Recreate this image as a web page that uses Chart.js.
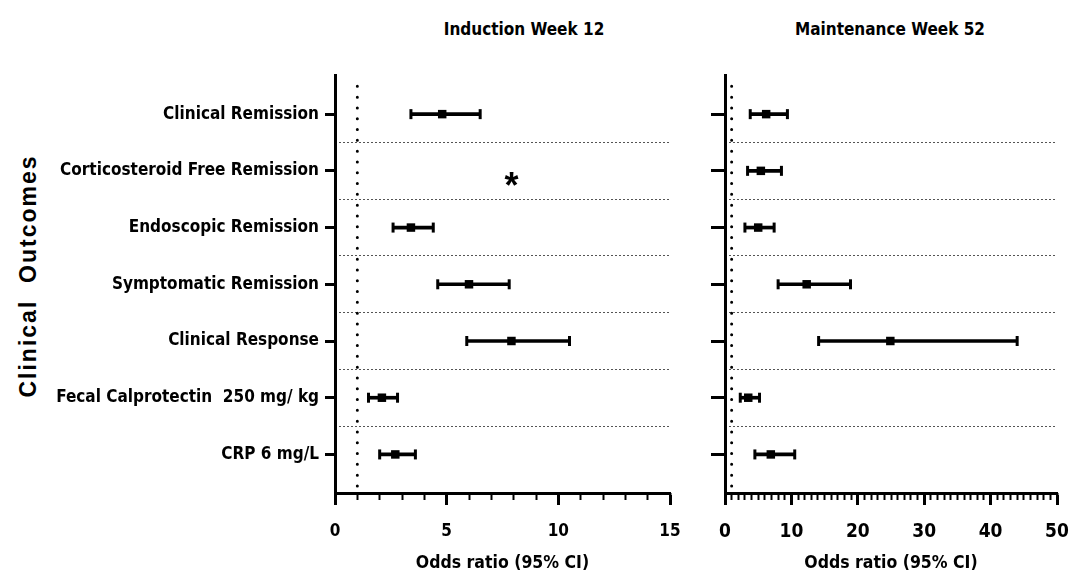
<!DOCTYPE html>
<html>
<head>
<meta charset="utf-8">
<script src="https://cdn.jsdelivr.net/npm/chart.js@4.4.1/dist/chart.umd.min.js"></script>
<style>
  body { margin: 0; background: #fff; }
  #wrap { position: relative; width: 1074px; height: 585px; }
  canvas { position: absolute; top: 0; }
  .ttl {
    position: absolute; top: 19px; transform: translateX(-50%); white-space: nowrap;
    font: bold 17px 'Liberation Sans Narrow', 'Arial Narrow', 'DejaVu Sans Condensed', sans-serif;
  }
  .ytitle {
    position: absolute; left: 28px; top: 276px; white-space: pre; letter-spacing: 2px;
    transform: translate(-50%, -50%) rotate(-90deg);
    font: bold 23px 'Liberation Sans', Arial, sans-serif;
  }
</style>
</head>
<body>
<div id="wrap">
  <div class="ttl" style="left:524px">Induction Week 12</div>
  <div class="ttl" style="left:890px">Maintenance Week 52</div>
  <div class="ytitle">Clinical  Outcomes</div>
  <canvas id="induction" width="700" height="585" style="left:0"></canvas>
  <canvas id="maintenance" width="374" height="585" style="left:700px"></canvas>
</div>
<script>
const outcomes = [
  'Clinical Remission',
  'Corticosteroid Free Remission',
  'Endoscopic Remission',
  'Symptomatic Remission',
  'Clinical Response',
  'Fecal Calprotectin  250 mg/ kg',
  'CRP 6 mg/L'
];

// Induction week 12 (no estimate for corticosteroid free remission)
const inductionOR = [4.8, null, 3.4, 6.0, 7.9, 2.1, 2.7];
const inductionLo = [3.4, null, 2.6, 4.6, 5.9, 1.5, 2.0];
const inductionHi = [6.5, null, 4.4, 7.8, 10.5, 2.8, 3.6];
const inductionTicks = [0, 5, 10, 15];

// Maintenance week 52
const maintenanceOR = [6.2, 5.4, 5.0, 12.3, 24.9, 3.5, 6.9];
const maintenanceLo = [3.8, 3.4, 3.0, 8.0, 14.1, 2.3, 4.5];
const maintenanceHi = [9.4, 8.5, 7.4, 18.9, 44.0, 5.2, 10.5];
const maintenanceTicks = [0, 10, 20, 30, 40, 50];

const refLine = 1;
const missingMark = { text: '*', x: 7.9, row: 1 };

const NARROW = "'Liberation Sans Narrow', 'Arial Narrow', 'DejaVu Sans Condensed', sans-serif";
const Y_MIN = -0.69, Y_MAX = 6.68;

const noteMark = {
  id: 'noteMark',
  afterDatasetsDraw(chart, args, opts) {
    if (!opts.text) return;
    const { ctx, scales: { x, y } } = chart;
    ctx.save();
    ctx.fillStyle = '#000';
    ctx.font = "bold 36px 'Liberation Sans', Arial, sans-serif";
    ctx.textAlign = 'center';
    ctx.textBaseline = 'middle';
    ctx.fillText(opts.text, x.getPixelForValue(opts.x), y.getPixelForValue(opts.row) + 17);
    ctx.restore();
  }
};

// no extra room for end labels, the layout padding already leaves it
const noLabelPad = s => { s.paddingLeft = 0; s.paddingRight = 0; };

function forestPanel(id, or, lo, hi, majors, o) {
  const rows = outcomes.map((_, i) => i).filter(i => or[i] != null);
  const seps = outcomes.slice(1).map((_, i) => i + 0.5);
  const xMax = majors[majors.length - 1];
  return new Chart(document.getElementById(id), {
    type: 'scatter',
    data: {
      datasets: [
        {
          type: 'line',
          data: [{ x: refLine, y: Y_MIN + 0.2 }, { x: refLine, y: Y_MAX }],
          borderColor: '#000', borderWidth: 3, borderDash: [0, 10.8], borderCapStyle: 'round',
          pointRadius: 0
        },
        {
          type: 'bar', indexAxis: 'y',
          data: rows.map(i => ({ x: [lo[i], hi[i]], y: i })),
          backgroundColor: '#000', barThickness: 3, borderWidth: 0
        },
        {
          data: rows.flatMap(i => [{ x: lo[i], y: i }, { x: hi[i], y: i }]),
          pointStyle: 'line', rotation: 90, radius: 5, borderColor: '#000', borderWidth: 3
        },
        {
          data: rows.map(i => ({ x: or[i], y: i })),
          pointStyle: 'rect', radius: 6, backgroundColor: '#000', borderWidth: 0
        }
      ]
    },
    options: {
      responsive: false,
      animation: false,
      layout: { padding: { top: 75, right: o.padRight, left: 0, bottom: 0 } },
      plugins: {
        legend: { display: false },
        tooltip: { enabled: false },
        noteMark: o.note || {}
      },
      scales: {
        x: {
          type: 'linear', position: 'bottom', min: 0, max: xMax, weight: 1,
          afterBuildTicks: s => { s.ticks = majors.map(v => ({ value: v })); },
          grid: { drawOnChartArea: false, tickLength: 12, tickWidth: 3, color: '#000' },
          border: { color: '#000', width: 3 },
          ticks: {
            color: '#000', padding: 16, autoSkip: false, maxRotation: 0,
            font: { family: NARROW, size: o.tickSize, weight: 'bold' }
          },
          title: {
            display: true, text: 'Odds ratio (95% CI)', color: '#000',
            font: { family: NARROW, size: 17.5, weight: 'bold' },
            padding: { top: 0, bottom: 11 }
          },
          afterFit: s => { s.height = 92; noLabelPad(s); }
        },
        xMinor: {
          type: 'linear', position: 'bottom', min: 0, max: xMax, weight: 0,
          ticks: { display: false, stepSize: 1, autoSkip: false },
          grid: { drawOnChartArea: false, tickLength: 7, tickWidth: 2, color: '#000' },
          border: { display: false },
          afterFit: s => { s.height = 0; noLabelPad(s); }
        },
        y: {
          type: 'linear', position: 'left', min: Y_MIN, max: Y_MAX, reverse: true, weight: 1,
          offset: false,
          afterBuildTicks: s => { s.ticks = outcomes.map((_, i) => ({ value: i })); },
          grid: { offset: false, drawOnChartArea: false, tickLength: o.yTick, tickWidth: 3, color: '#000' },
          border: { color: '#000', width: 3 },
          ticks: {
            display: o.labels, color: '#000', padding: 6, autoSkip: false,
            font: { family: NARROW, size: 17, weight: 'bold' },
            callback: v => outcomes[v]
          },
          afterFit: s => { s.width = o.yWidth; }
        },
        ySep: {
          type: 'linear', position: 'left', min: Y_MIN, max: Y_MAX, reverse: true, weight: 0,
          offset: false,
          afterBuildTicks: s => { s.ticks = seps.map(v => ({ value: v })); },
          ticks: { display: false },
          grid: { offset: false, drawOnChartArea: true, drawTicks: false, color: '#555', lineWidth: 1 },
          border: { display: false, dash: [2, 2] },
          afterFit: s => { s.width = 0; }
        }
      }
    },
    plugins: [noteMark]
  });
}

forestPanel('induction', inductionOR, inductionLo, inductionHi, inductionTicks,
  { padRight: 30, yWidth: 335, yTick: 10, labels: true, tickSize: 17, note: missingMark });
forestPanel('maintenance', maintenanceOR, maintenanceLo, maintenanceHi, maintenanceTicks,
  { padRight: 17, yWidth: 25, yTick: 14, labels: false, tickSize: 19 });
</script>
</body>
</html>
